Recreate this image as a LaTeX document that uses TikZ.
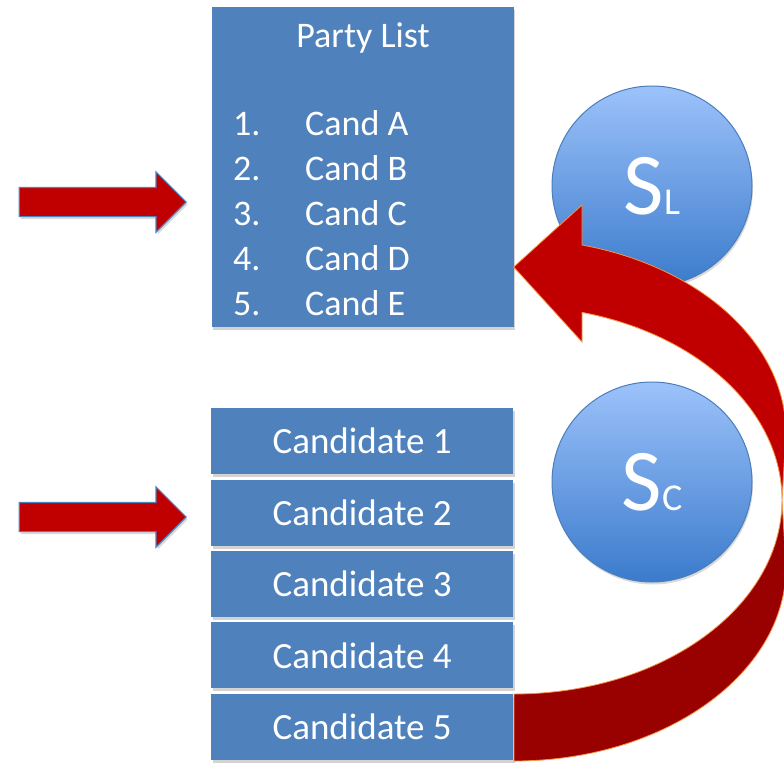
\documentclass[tikz,border=0pt]{standalone}
\usepackage{fontspec}
\setmainfont{Carlito}
\usetikzlibrary{positioning}
\usetikzlibrary{shadows}
\usetikzlibrary{shapes.arrows}

\definecolor{boxblue}{HTML}{4F81BD}
\definecolor{arrred}{HTML}{C00000}
\definecolor{backred}{HTML}{990000}
\definecolor{rimorange}{HTML}{F79646}
\definecolor{ballhi}{HTML}{9CC2FA}
\definecolor{balllo}{HTML}{3B7BCC}
\definecolor{ballrim}{HTML}{4A7EBB}

\begin{document}
\begin{tikzpicture}[x=1pt, y=-1pt, node distance=5pt,
    box/.style={fill=boxblue, minimum width=302pt, inner sep=0pt, text=white,
      drop shadow={opacity=0.35, shadow xshift=1.5pt, shadow yshift=-3pt}},
    cbox/.style={box, minimum height=66pt, font=\fontsize{37}{40}\selectfont},
    ltxt/.style={text=white, inner sep=0pt, font=\fontsize{36}{40}\selectfont},
    ball/.style={circle, minimum size=200pt, inner sep=0pt, draw=ballrim, line width=1pt,
      top color=ballhi, bottom color=balllo, text=white,
      drop shadow={opacity=0.3, shadow xshift=1pt, shadow yshift=-2.5pt}},
    pointer/.style={single arrow, single arrow head extend=15.5pt, minimum height=167pt,
      inner sep=0pt, inner ysep=14pt, fill=arrred, draw=boxblue, line width=1.2pt,
      drop shadow={opacity=0.3, shadow xshift=1.5pt, shadow yshift=-2.5pt}},
    bandrim/.style={draw=rimorange, line width=0.8pt}]
  \useasboundingbox (0,0) rectangle (784,763);

  % party list
  \node[box, minimum height=320pt] (plist) at (362.5,167) {};
  \node[ltxt, anchor=base] (ptitle) at (363,47) {Party List};
  \foreach \i/\c in {1/A,2/B,3/C,4/D,5/E} {
    \node[ltxt, anchor=base west] (num\i)  at (233,90+45*\i) {\i.};
    \node[ltxt, anchor=base west] (item\i) at (305,90+45*\i) {Cand \c};
  }

  % single candidates
  \node[cbox, anchor=north west] (cand1) at (211,408) {Candidate 1};
  \node[cbox, below=of cand1] (cand2) {Candidate 2};
  \node[cbox, below=of cand2] (cand3) {Candidate 3};
  \node[cbox, below=of cand3] (cand4) {Candidate 4};
  \node[cbox, below=of cand4] (cand5) {Candidate 5};

  % pointers
  \node[pointer, anchor=tip] (pin1) at (187,202) {};
  \node[pointer, anchor=tip] (pin2) at (187,517) {};

  % systems
  \node[ball] (sl) at (652,186) {{\fontsize{88}{90}\selectfont S}{\fontsize{38}{40}\selectfont L}};
  \node[ball] (sc) at (652,482) {{\fontsize{88}{90}\selectfont S}{\fontsize{38}{40}\selectfont C}};

  % curved arrow: back part, then front part with head
  \path[bandrim, fill=backred] (514,694) -- (514,761)
    arc[start angle=-90, end angle=0, x radius=272pt, y radius=194pt]
    -- (782,500)
    arc[start angle=0, end angle=-90, x radius=268pt, y radius=194pt] -- cycle;
  \path[bandrim, fill=arrred] (582,245)
    arc[start angle=75.5, end angle=0, x radius=272pt, y radius=194pt]
    -- (782,500)
    arc[start angle=0, end angle=75.3, x radius=268pt, y radius=194pt]
    -- (582,342) -- (plist.east |- 0,267) -- (582,205) -- cycle;
\end{tikzpicture}
\end{document}
